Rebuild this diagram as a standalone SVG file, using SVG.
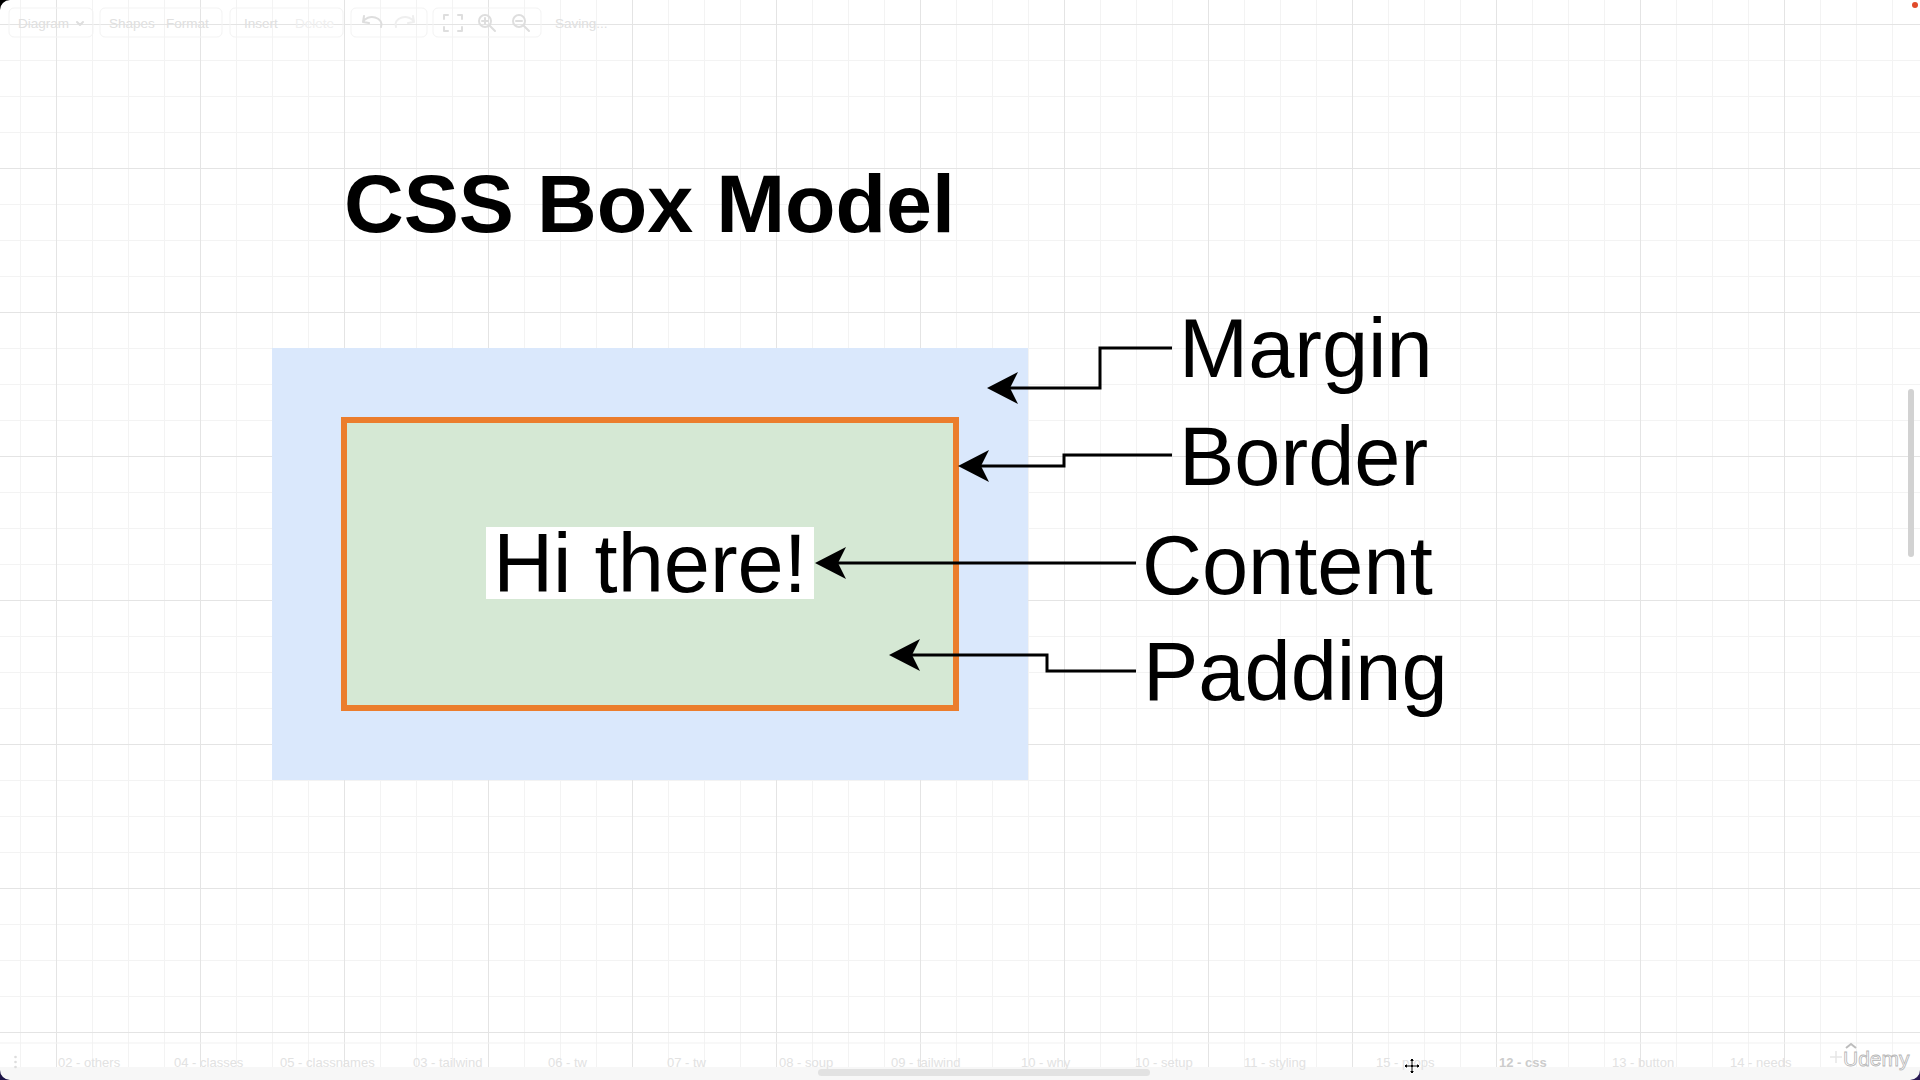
<svg xmlns="http://www.w3.org/2000/svg" width="1920" height="1080" viewBox="0 0 1920 1080">
  <style>
    .lbl { font-family: "Liberation Sans", Arial, Helvetica, sans-serif; font-size: 83px; fill: #000; }
    .title { font-family: "Liberation Sans", Arial, Helvetica, sans-serif; font-size: 82px; font-weight: bold; fill: #000; }
    .edge { fill: none; stroke: #000; stroke-width: 3; }
    .ui { font-family: "Liberation Sans", Arial, Helvetica, sans-serif; font-size: 13.5px; fill: #e0e0e0; }
    .tab { font-family: "Liberation Sans", Arial, Helvetica, sans-serif; font-size: 13px; fill: #e2e2e2; }
    .tbox { fill: none; stroke: #f3f3f3; stroke-width: 1; }
    .icon { fill: none; stroke: #dedede; stroke-width: 2; stroke-linecap: round; stroke-linejoin: round; }
  </style>
  <defs>
    <pattern id="grid" x="56" y="24" width="144" height="144" patternUnits="userSpaceOnUse">
      <path d="M36.5,0 V144 M72.5,0 V144 M108.5,0 V144 M0,36.5 H144 M0,72.5 H144 M0,108.5 H144" stroke="#f3f3f3" stroke-width="1" fill="none"/>
      <path d="M0.5,0 V144 M0,0.5 H144" stroke="#e4e4e4" stroke-width="1" fill="none"/>
    </pattern>
    <marker id="arrow" markerUnits="userSpaceOnUse" viewBox="-20 -20 40 40" markerWidth="40" markerHeight="40" refX="0" refY="0" orient="auto" overflow="visible">
      <path d="M23,0 L-8,-16 L0,0 L-8,16 Z" fill="#000"/>
    </marker>
  </defs>

  <!-- canvas -->
  <rect x="0" y="0" width="1920" height="1080" fill="#ffffff"/>
  <rect x="0" y="0" width="1920" height="1080" fill="url(#grid)"/>

  <!-- toolbar (faint UI) -->
  <g id="toolbar">
    <rect class="tbox" x="9" y="8" width="84" height="29" rx="5"/>
    <rect class="tbox" x="100" y="8" width="122" height="29" rx="5"/>
    <rect class="tbox" x="230" y="8" width="113" height="29" rx="5"/>
    <rect class="tbox" x="351" y="8" width="76" height="29" rx="5"/>
    <rect class="tbox" x="433" y="8" width="108" height="29" rx="5"/>
    <text class="ui" x="18" y="28">Diagram</text>
    <path class="icon" d="M77,22 L80,25 L83,22" stroke-width="1"/>
    <text class="ui" x="109" y="28">Shapes</text>
    <text class="ui" x="166" y="28">Format</text>
    <text class="ui" x="244" y="28">Insert</text>
    <text class="ui" x="295" y="28" style="fill:#efefef">Delete</text>
    <path class="icon" d="M363,22 A9,7 0 0 1 381,27 M363,22 L364,16 M363,22 L369,23"/>
    <path class="icon" d="M414,22 A9,7 0 0 0 396,27 M414,22 L413,16 M414,22 L408,23" style="stroke:#efefef"/>
    <path class="icon" d="M444,19 V15 H448 M458,15 H462 V19 M462,27 V31 H458 M448,31 H444 V27" stroke-width="1.8"/>
    <circle class="icon" cx="485" cy="21" r="6" stroke-width="1.8"/>
    <path class="icon" d="M489.5,25.5 L495,31 M482,21 H488 M485,18 V24" stroke-width="1.8"/>
    <circle class="icon" cx="519" cy="21" r="6" stroke-width="1.8"/>
    <path class="icon" d="M523.5,25.5 L529,31 M516,21 H522" stroke-width="1.8"/>
    <text class="ui" x="555" y="28">Saving...</text>
  </g>

  <!-- nodes -->
  <g id="title">
    <text class="title" x="344" y="232" textLength="611" lengthAdjust="spacingAndGlyphs">CSS Box Model</text>
  </g>
  <g id="margin-box">
    <rect x="272" y="348" width="756" height="432" fill="#dae8fc"/>
  </g>
  <g id="border-box">
    <rect x="344" y="420" width="612" height="288" fill="#d5e8d4" stroke="#eb7d2d" stroke-width="6"/>
  </g>
  <g id="content">
    <rect x="486" y="527" width="328" height="72" fill="#ffffff"/>
    <text class="lbl" x="650" y="592" text-anchor="middle">Hi there!</text>
  </g>
  <g id="label-margin">
    <text class="lbl" x="1179" y="377">Margin</text>
  </g>
  <g id="label-border">
    <text class="lbl" x="1179" y="485">Border</text>
  </g>
  <g id="label-content">
    <text class="lbl" x="1142" y="594">Content</text>
  </g>
  <g id="label-padding">
    <text class="lbl" x="1143" y="700">Padding</text>
  </g>

  <!-- connectors -->
  <g id="connectors">
    <path class="edge" d="M1172,348 H1100 V388 H1010" marker-end="url(#arrow)"/>
    <path class="edge" d="M1172,455 H1064 V466 H981" marker-end="url(#arrow)"/>
    <path class="edge" d="M1136,563 H838" marker-end="url(#arrow)"/>
    <path class="edge" d="M1136,671 H1047 V655 H912" marker-end="url(#arrow)"/>
  </g>

  <!-- bottom tab bar (faint UI) -->
  <g id="tabbar">
    <line x1="0" y1="1043" x2="1920" y2="1043" stroke="#f1f1f1" stroke-width="1"/>
    <rect x="0" y="1067" width="1920" height="13" fill="#f7f7f7"/>
    <circle cx="15.5" cy="1057" r="1.3" fill="#dddddd"/>
    <circle cx="15.5" cy="1062" r="1.3" fill="#dddddd"/>
    <circle cx="15.5" cy="1067" r="1.3" fill="#dddddd"/>
    <text class="tab" x="58" y="1067">02 - others</text>
    <text class="tab" x="174" y="1067">04 - classes</text>
    <text class="tab" x="280" y="1067">05 - classnames</text>
    <text class="tab" x="413" y="1067">03 - tailwind</text>
    <text class="tab" x="548" y="1067">06 - tw</text>
    <text class="tab" x="667" y="1067">07 - tw</text>
    <text class="tab" x="779" y="1067">08 - soup</text>
    <text class="tab" x="891" y="1067">09 - tailwind</text>
    <text class="tab" x="1021" y="1067">10 - why</text>
    <text class="tab" x="1135" y="1067">10 - setup</text>
    <text class="tab" x="1244" y="1067">11 - styling</text>
    <text class="tab" x="1376" y="1067">15 - props</text>
    <text class="tab" x="1499" y="1067" style="font-weight:bold;fill:#cccccc">12 - css</text>
    <text class="tab" x="1612" y="1067">13 - button</text>
    <text class="tab" x="1730" y="1067">14 - needs</text>
    <rect x="818" y="1069" width="332" height="7" rx="3.5" fill="#e2e2e2"/>
    <!-- move cursor -->
    <g transform="translate(1412,1066)">
      <path d="M0,-8 L3,-5 H1 V-1 H5 V-3 L8,0 L5,3 V1 H1 V5 H3 L0,8 L-3,5 H-1 V1 H-5 V3 L-8,0 L-5,-3 V-1 H-1 V-5 H-3 Z" fill="#000" stroke="#fff" stroke-width="1"/>
    </g>
  </g>

  <!-- right scrollbar -->
  <rect x="1908" y="389" width="6" height="168" rx="3" fill="#d2d2d2"/>

  <!-- watermark -->
  <g id="watermark">
    <path d="M1830,1057 H1842 M1836,1051 V1063" stroke="#e6e6e6" stroke-width="1.5"/>
    <path d="M1846,1048 L1851,1044 L1856,1048" fill="none" stroke="#bdbdbd" stroke-width="2"/>
    <text x="1843" y="1066" style="font-family:'Liberation Sans',Arial,sans-serif;font-size:21px;fill:#ffffff;stroke:#b5b5b5;stroke-width:0.8">Udemy</text>
  </g>

  <!-- screen corners -->
  <path d="M0,0 H10 A10,10 0 0 0 0,10 Z" fill="#000"/>
  <path d="M0,1080 H10 A10,10 0 0 1 0,1070 Z" fill="#1c1446"/>
  <path d="M1920,1080 H1910 A10,10 0 0 0 1920,1070 Z" fill="#2a1a55"/>
  <circle cx="1915" cy="5" r="3" fill="#e04a2a"/>
</svg>
